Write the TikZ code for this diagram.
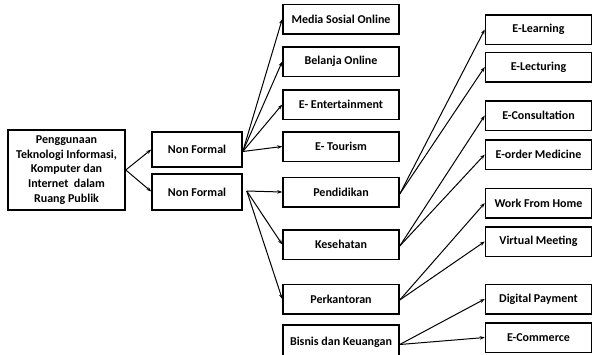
\documentclass[tikz,border=0pt]{standalone}
\usepackage{fontspec}
\setmainfont{Carlito}
\usetikzlibrary{arrows.meta}
\begin{document}
\begin{tikzpicture}[x=1pt,y=-1pt,
  box/.style={draw=black,line width=1.5pt,fill=white,inner sep=0pt,align=center,
    font=\bfseries\fontsize{12}{14.6}\selectfont},
  arr/.style={line width=1pt,-{Stealth[length=5pt,width=3.6pt]}}]
\useasboundingbox (0,0) rectangle (593,354);
\begin{scope}
\clip (0,0) rectangle (593,354);
% root and second level
\node[box,minimum width=117pt,minimum height=80pt] (root) at (66.5,170) {Penggunaan\\Teknologi Informasi,\\Komputer dan\\Internet\ \ dalam\\Ruang Publik};
\node[box,minimum width=90pt,minimum height=35pt] (nf1) at (197,149.5) {Non Formal};
\node[box,minimum width=90pt,minimum height=36pt] (nf2) at (197,192) {Non Formal};
% middle column
\tikzset{mid/.style={box,minimum width=116pt,minimum height=29.5pt}}
\node[mid] (media) at (341,19) {Media Sosial Online};
\node[mid] (belanja) at (341,61.5) {Belanja Online};
\node[mid] (ent) at (341,104.5) {E- Entertainment};
\node[mid] (tour) at (341,146.5) {E- Tourism};
\node[mid] (pend) at (341,192) {Pendidikan};
\node[mid] (kes) at (341,244.5) {Kesehatan};
\node[mid] (perk) at (341,299) {Perkantoran};
\node[mid,minimum height=35pt] (bis) at (341,342.5) {Bisnis dan Keuangan};
% right column
\tikzset{rgt/.style={box,minimum width=106pt,minimum height=29.5pt}}
\node[rgt] (elearn) at (538.5,29.5) {E-Learning};
\node[rgt] (electure) at (538.5,67) {E-Lecturing};
\node[rgt] (econs) at (538.5,115.5) {E-Consultation};
\node[rgt] (eorder) at (538.5,154.5) {E-order Medicine};
\node[rgt] (wfh) at (538.5,203) {Work From Home};
\node[rgt] (virt) at (538.5,241.5) {Virtual Meeting};
\node[rgt] (digpay) at (538.5,299) {Digital Payment};
\node[rgt] (ecom) at (538.5,337.5) {E-Commerce};
% connectors
\coordinate (r0) at (root.east);
\draw[arr] (r0) -- (nf1.west);
\draw[arr] (r0) -- ([yshift=0.5pt]nf2.west);
\coordinate (n1) at ([yshift=-2pt]nf1.east);
\foreach \t in {media,belanja,ent,tour} \draw[arr] (n1) -- (\t.west);
\coordinate (n2) at ([xshift=4pt,yshift=1pt]nf2.east);
\foreach \t in {pend,kes,perk} \draw[arr] (n2) -- (\t.west);
\coordinate (p1) at ([yshift=-2pt]pend.east);
\draw[arr] (p1) -- (elearn.west);
\draw[arr] (p1) -- (electure.west);
\coordinate (k1) at ([yshift=-1.5pt]kes.east);
\draw[arr] (k1) -- (econs.west);
\draw[arr] (k1) -- (eorder.west);
\coordinate (q1) at ([yshift=-1pt]perk.east);
\draw[arr] (q1) -- (wfh.west);
\draw[arr] (q1) -- (virt.west);
\coordinate (b1) at ([yshift=-2pt]bis.east);
\draw[arr] (b1) -- (digpay.west);
\draw[arr] (b1) -- (ecom.west);
\end{scope}
\end{tikzpicture}
\end{document}
